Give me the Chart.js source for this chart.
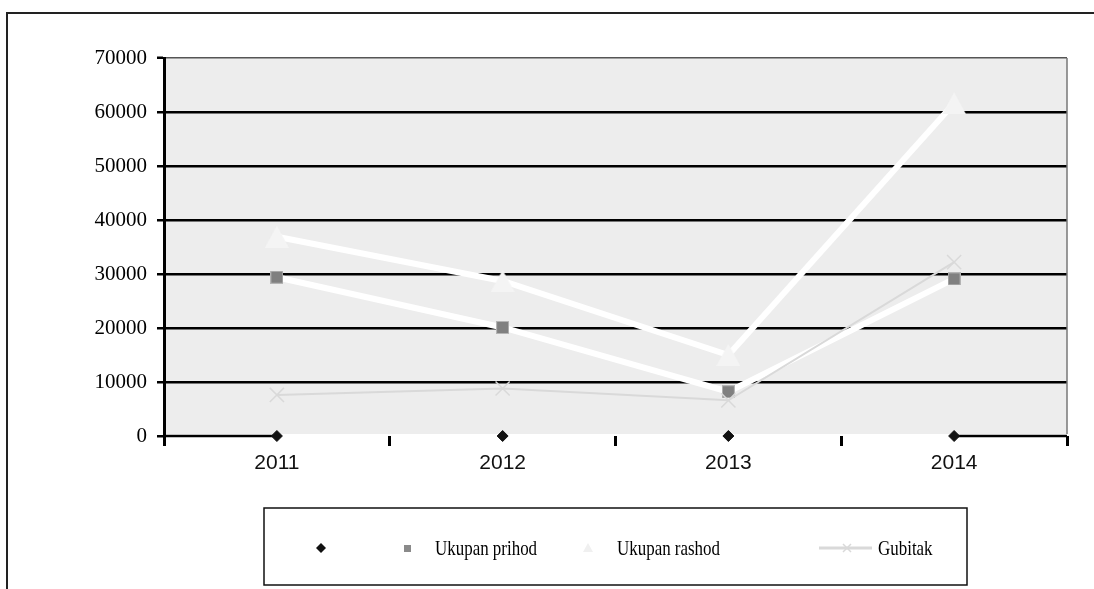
<!DOCTYPE html>
<html>
<head>
<meta charset="utf-8">
<script src="https://cdn.jsdelivr.net/npm/chart.js@4.4.1/dist/chart.umd.min.js"></script>
<style>
  html, body { margin: 0; padding: 0; background: #fff; overflow: hidden; }
  #wrap { position: relative; width: 1094px; height: 589px; }
  #frame { position: absolute; left: 6px; top: 12px; width: 1200px; height: 700px;
           border-left: 2px solid #222; border-top: 2px solid #222; }
  #c { position: absolute; left: 0; top: 0; }
</style>
</head>
<body>
<div id="wrap">
  <div id="frame"></div>
  <canvas id="c" width="1094" height="589"></canvas>
</div>
<script>
// Categories and series
const years = ['2011', '2012', '2013', '2014'];
const baseline = [0, 0, 0, 0];
const prihod = [29400, 20100, 8200, 29100];
const rashod = [36900, 28700, 15000, 61600];
const gubitak = [7600, 8800, 6600, 32200];
const seriesNames = ['', 'Ukupan prihod', 'Ukupan rashod', 'Gubitak'];
const yMin = 0, yMax = 70000, yStep = 10000;

const SERIF = '"Liberation Serif", "Times New Roman", serif';
const SANS = '"Liberation Sans", Arial, sans-serif';

// Marker bitmaps
function squareMarker(size, fill, stroke) {
  const c = document.createElement('canvas');
  c.width = size; c.height = size;
  const g = c.getContext('2d');
  g.fillStyle = fill; g.fillRect(0, 0, size, size);
  if (stroke) { g.strokeStyle = stroke; g.lineWidth = 1; g.strokeRect(0.5, 0.5, size - 1, size - 1); }
  return c;
}
function triangleMarker(w, h, fill) {
  const c = document.createElement('canvas');
  c.width = w; c.height = h;
  const g = c.getContext('2d');
  g.fillStyle = fill;
  g.beginPath(); g.moveTo(w / 2, 0); g.lineTo(w, h); g.lineTo(0, h); g.closePath(); g.fill();
  return c;
}
const sqBig = squareMarker(13, '#808080', '#b4b4b4');
const triBig = triangleMarker(24, 22, '#f4f4f4');
const sqSmall = squareMarker(7, '#8a8a8a', null);
const triSmall = triangleMarker(10, 9, '#f0f0f0');

// Plot background, right frame line and the zero-line stubs
const plotDecor = {
  id: 'plotDecor',
  beforeDraw(chart) {
    const { ctx, chartArea: a } = chart;
    ctx.save();
    ctx.fillStyle = '#ededed';
    ctx.fillRect(a.left, a.top, a.right - a.left, a.bottom - a.top - 2);
    ctx.restore();
  },
  beforeDatasetsDraw(chart) {
    const { ctx, chartArea: a, scales } = chart;
    ctx.save();
    ctx.strokeStyle = '#777';
    ctx.lineWidth = 1.5;
    ctx.beginPath();
    ctx.moveTo(a.right, a.top); ctx.lineTo(a.right, a.bottom - 2);
    ctx.stroke();
    const y0 = scales.y.getPixelForValue(0);
    const xa = scales.x.getPixelForValue(0);
    const xb = scales.x.getPixelForValue(years.length - 1);
    ctx.strokeStyle = '#000';
    ctx.lineWidth = 2.5;
    ctx.beginPath();
    ctx.moveTo(a.left, y0); ctx.lineTo(xa, y0);
    ctx.moveTo(xb, y0); ctx.lineTo(a.right, y0);
    ctx.stroke();
    ctx.restore();
  }
};

// Boxed legend under the plot
const boxLegend = {
  id: 'boxLegend',
  afterDraw(chart) {
    const ctx = chart.ctx;
    const box = { x: 264, y: 508, w: 703, h: 77 };
    const cy = 548;
    ctx.save();
    ctx.strokeStyle = '#111';
    ctx.lineWidth = 1.5;
    ctx.strokeRect(box.x, box.y, box.w, box.h);

    // diamond
    ctx.fillStyle = '#111';
    ctx.beginPath();
    ctx.moveTo(321, cy - 5); ctx.lineTo(326, cy); ctx.lineTo(321, cy + 5); ctx.lineTo(316, cy);
    ctx.closePath(); ctx.fill();

    ctx.drawImage(sqSmall, 407 - 3.5, cy - 3.5);
    ctx.drawImage(triSmall, 588 - 5, cy - 5);

    // line + cross
    ctx.strokeStyle = '#d9d9d9';
    ctx.lineWidth = 3;
    ctx.beginPath(); ctx.moveTo(819, cy); ctx.lineTo(872, cy); ctx.stroke();
    ctx.lineWidth = 1.5;
    ctx.beginPath();
    ctx.moveTo(843, cy - 4); ctx.lineTo(851, cy + 4);
    ctx.moveTo(851, cy - 4); ctx.lineTo(843, cy + 4);
    ctx.stroke();

    ctx.fillStyle = '#000';
    ctx.font = '22px ' + SERIF;
    ctx.textBaseline = 'alphabetic';
    const labels = [[seriesNames[1], 435], [seriesNames[2], 617], [seriesNames[3], 878]];
    labels.forEach(([t, x]) => {
      ctx.save();
      ctx.translate(x, 555);
      ctx.scale(0.77, 1);
      ctx.fillText(t, 0, 0);
      ctx.restore();
    });
    ctx.restore();
  }
};

new Chart(document.getElementById('c'), {
  type: 'line',
  data: {
    labels: years,
    datasets: [
      {
        label: seriesNames[0], data: baseline, showLine: false, order: 0, clip: false,
        pointStyle: 'rectRot', pointRadius: 5.5, pointBackgroundColor: '#111', pointBorderColor: '#111', pointBorderWidth: 1
      },
      {
        label: seriesNames[3], data: gubitak, order: 1, borderColor: '#d9d9d9', borderWidth: 2, tension: 0,
        pointStyle: 'crossRot', pointRadius: 10, pointBorderColor: '#d9d9d9', pointBorderWidth: 1.5
      },
      {
        label: seriesNames[2], data: rashod, order: 2, borderColor: '#ffffff', borderWidth: 6, tension: 0,
        pointStyle: triBig, pointRadius: 12
      },
      {
        label: seriesNames[1], data: prihod, order: 3, borderColor: '#ffffff', borderWidth: 6, tension: 0,
        pointStyle: sqBig, pointRadius: 7
      }
    ]
  },
  options: {
    responsive: false,
    animation: false,
    events: [],
    layout: { padding: { left: 0, top: 58, right: 27, bottom: 0 } },
    plugins: { legend: { display: false }, tooltip: { enabled: false } },
    scales: {
      x: {
        type: 'category',
        offset: true,
        afterFit(s) { s.height = 153; },
        grid: { offset: true, drawOnChartArea: false, drawTicks: true, tickLength: 10, tickWidth: 3, tickColor: '#000' },
        border: { display: false },
        ticks: { color: '#111', padding: 5, font: { family: SANS, size: 21 } }
      },
      y: {
        min: yMin, max: yMax,
        afterFit(s) { s.width = 164; },
        grid: {
          color: c => c.tick.value === yMin ? 'rgba(0,0,0,0)' : (c.tick.value === yMax ? '#555' : '#000'),
          lineWidth: c => c.tick.value === yMax ? 1.5 : 2.5,
          tickColor: '#000', tickWidth: 2.5, tickLength: 7
        },
        border: { display: true, color: '#000', width: 3 },
        ticks: { stepSize: yStep, color: '#000', padding: 10, font: { family: SERIF, size: 21 },
                 callback: v => String(v) }
      }
    }
  },
  plugins: [plotDecor, boxLegend]
});
</script>
</body>
</html>
